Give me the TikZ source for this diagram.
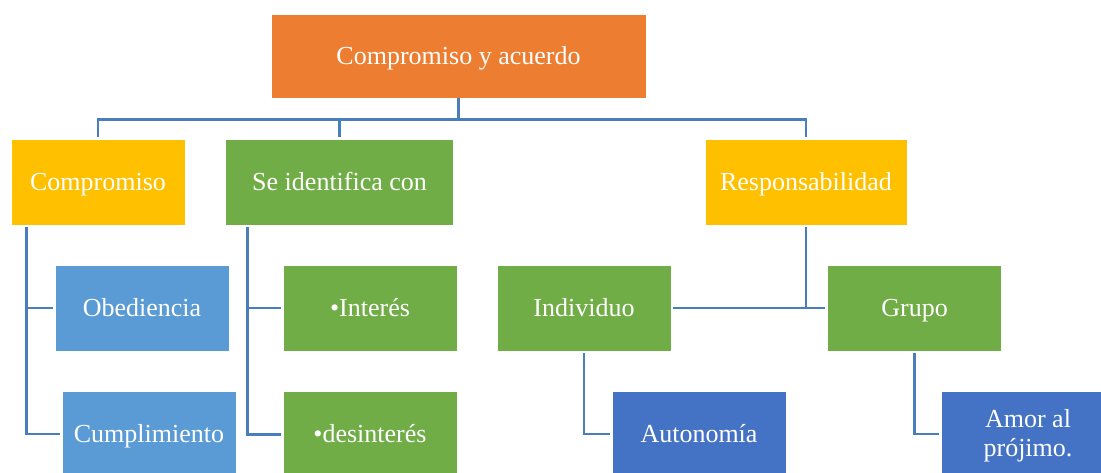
\documentclass[tikz,border=0pt]{standalone}
\usepackage{fontspec}
\setmainfont{Liberation Serif}
\usepackage{tikz}
\usetikzlibrary{positioning}
\definecolor{Office-orange}{RGB}{237,125,49}
\definecolor{Office-gold}{RGB}{255,192,0}
\definecolor{Office-green}{RGB}{112,173,71}
\definecolor{Office-blue}{RGB}{91,155,213}
\definecolor{Office-dark}{RGB}{68,114,196}
\definecolor{Office-line}{RGB}{74,126,187}

\begin{document}
\begin{tikzpicture}[x=1pt, y=-1pt]
    \tikzset{ box/.style={draw=white, line width=0.6pt, text=white, inner sep=0pt, text height=18pt, text depth=2pt, minimum height=86pt, minimum width=174pt, font=\fontsize{26}{29}\selectfont} }
    \tikzset{ lnk/.style={draw=Office-line, line width=2.8pt} }
    \useasboundingbox (0,0) rectangle (1101,472);

    \node[box, fill=Office-orange, minimum width=375pt, minimum height=84pt] (top) at (458.5, 56)  {Compromiso y acuerdo};
    \node[box, fill=Office-gold                                            ] (c1)  at (98, 182)    {Compromiso};
    \node[box, fill=Office-green,  minimum width=228pt, right=40pt of c1    ] (c2)                  {Se identifica con};
    \node[box, fill=Office-gold,   minimum width=202pt                      ] (c3)  at (806, 182)   {Responsabilidad};

    \node[box, fill=Office-blue                                            ] (obe) at (142, 308)   {Obediencia};
    \node[box, fill=Office-blue                                            ] (cum) at (149, 434)   {Cumplimiento};
    \node[box, fill=Office-green                                           ] (int) at (370, 308)   {•Interés};
    \node[box, fill=Office-green,  below=40pt of int                        ] (des)                 {•desinterés};
    \node[box, fill=Office-green                                           ] (ind) at (584, 308)   {Individuo};
    \node[box, fill=Office-green,  right=156pt of ind                       ] (gru)                 {Grupo};
    \node[box, fill=Office-dark                                            ] (aut) at (699, 434)   {Autonomía};
    \node[box, fill=Office-dark,   align=center, text height=47pt           ] (amo) at (1028, 434)  {Amor al\\prójimo.};

    \draw[lnk, shorten >=2pt] (top.south) -- ++(0,21) -| (c1.north);
    \draw[lnk, shorten >=2pt] (top.south) ++(0,21)    -| (c2.north);
    \draw[lnk, shorten >=2pt] (top.south) ++(0,21)    -| (c3.north);

    \draw[lnk, shorten <=2pt, shorten >=2pt] ([xshift=16pt]c1.south west) |- (obe.west);
    \draw[lnk, shorten <=2pt, shorten >=2pt] ([xshift=16pt]c1.south west) |- (cum.west);
    \draw[lnk, shorten <=2pt, shorten >=2pt] ([xshift=22pt]c2.south west) |- (int.west);
    \draw[lnk, shorten <=2pt, shorten >=2pt] ([xshift=22pt]c2.south west) |- (des.west);

    \draw[lnk, shorten <=2pt                ] (c3.south)  -- (c3.south |- ind.east);
    \draw[lnk, shorten <=2pt, shorten >=2pt] (ind.east)   -- (gru.west);
    \draw[lnk, shorten <=2pt, shorten >=2pt] (ind.south)  |- (aut.west);
    \draw[lnk, shorten <=2pt, shorten >=2pt] (gru.south)  |- (amo.west);
  \end{tikzpicture}
\end{document}
